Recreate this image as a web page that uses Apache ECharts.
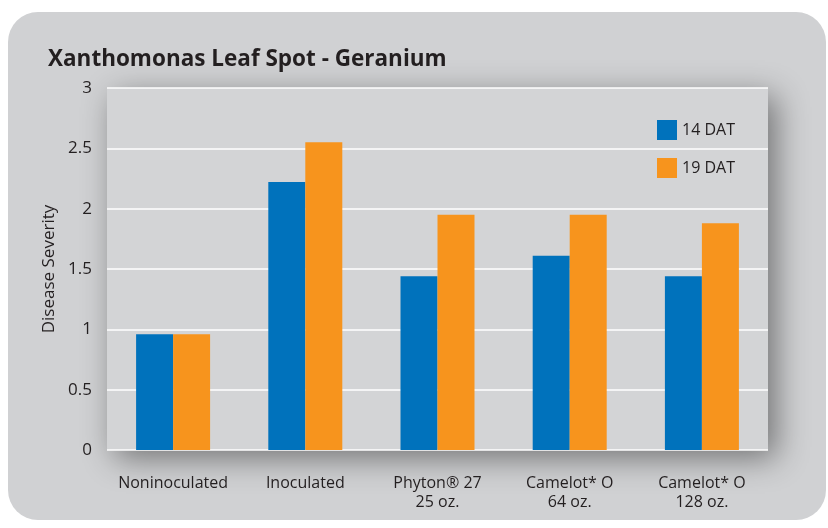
<!DOCTYPE html>
<html>
<head>
<meta charset="utf-8">
<script src="https://cdn.jsdelivr.net/npm/echarts@6/dist/echarts.min.js"></script>
<style>
  html, body { margin: 0; padding: 0; background: #fff; }
  #chart { width: 828px; height: 528px; }
</style>
</head>
<body>
<div id="chart"></div>
<script>
var categories = ['Noninoculated', 'Inoculated', 'Phyton® 27\n25 oz.', 'Camelot* O\n64 oz.', 'Camelot* O\n128 oz.'];
var dat14 = [0.96, 2.22, 1.44, 1.61, 1.44];
var dat19 = [0.96, 2.55, 1.95, 1.95, 1.88];
var seriesNames = ['14 DAT', '19 DAT'];

var font = "'Open Sans', sans-serif";

var option = {
    backgroundColor: '#fff',
    animation: false,
    color: ['#0072bc', '#f7941d'],
    graphic: [
        {
            type: 'rect',
            z: -10,
            shape: { x: 8, y: 12, width: 818, height: 508, r: 30 },
            style: { fill: '#d0d1d3' }
        }
    ],
    title: {
        text: 'Xanthomonas Leaf Spot - Geranium',
        left: 43,
        top: 43,
        textStyle: { fontFamily: font, fontWeight: 'bold', fontSize: 22.5, color: '#231f20' }
    },
    legend: {
        orient: 'vertical',
        left: 652,
        top: 115,
        itemWidth: 20,
        itemHeight: 20,
        itemGap: 18,
        icon: 'rect',
        selectedMode: false,
        textStyle: { fontFamily: font, fontSize: 16, color: '#231f20' },
        data: seriesNames
    },
    grid: {
        left: 107,
        right: 60,
        top: 88,
        bottom: 78,
        show: true,
        backgroundColor: '#d3d4d6',
        borderWidth: 0,
        shadowColor: 'rgba(0,0,0,0.45)',
        shadowBlur: 30,
        shadowOffsetX: 8,
        shadowOffsetY: 8
    },
    xAxis: {
        type: 'category',
        data: categories,
        axisLine: { show: false },
        axisTick: { show: false },
        axisLabel: { interval: 0, margin: 24, fontFamily: font, fontSize: 16, color: '#231f20', lineHeight: 19 }
    },
    yAxis: {
        type: 'value',
        min: 0,
        max: 3,
        interval: 0.5,
        name: 'Disease Severity',
        nameLocation: 'middle',
        nameGap: 49,
        nameTextStyle: { fontFamily: font, fontSize: 17, color: '#231f20' },
        axisLine: { show: false },
        axisTick: { show: false },
        axisLabel: { margin: 15, fontFamily: font, fontSize: 17, color: '#231f20' },
        splitLine: { lineStyle: { color: '#ffffff', width: 1.5 } }
    },
    series: [
        { name: seriesNames[0], type: 'bar', data: dat14, barWidth: 37, barGap: '0%' },
        { name: seriesNames[1], type: 'bar', data: dat19, barWidth: 37, barGap: '0%' }
    ]
};

var myChart = echarts.init(document.getElementById('chart'));
myChart.setOption(option);
</script>
</body>
</html>
